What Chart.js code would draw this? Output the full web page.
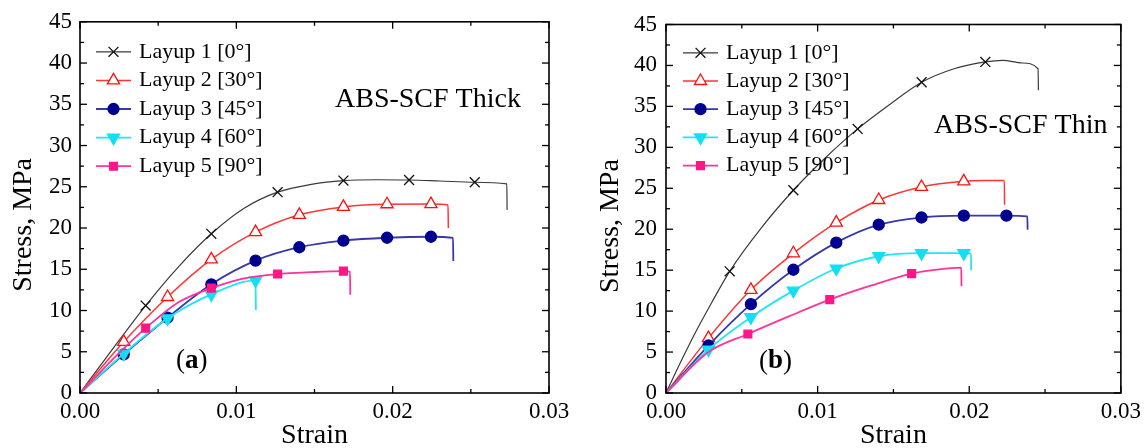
<!DOCTYPE html>
<html><head><meta charset="utf-8">
<script src="https://cdn.jsdelivr.net/npm/chart.js@4.4.1/dist/chart.umd.min.js"></script>
<style>
html,body{margin:0;padding:0;background:#fff;}
#wrap{position:relative;width:1146px;height:448px;overflow:hidden;}
.c{position:absolute;top:0;}
</style></head><body>
<div id="wrap">
<canvas id="thick" class="c" style="left:0" width="580" height="448"></canvas>
<canvas id="thin" class="c" style="left:580px" width="566" height="448"></canvas>
</div>
<script>
// ---------- data ----------
const strainTicks = [0, 0.01, 0.02, 0.03];
const strainTickLabels = ['0.00', '0.01', '0.02', '0.03'];
const strainMinorTicks = [0.005, 0.015, 0.025];
const stressTicks = [0, 5, 10, 15, 20, 25, 30, 35, 40, 45];
const stressMinorTicks = [2.5, 7.5, 12.5, 17.5, 22.5, 27.5, 32.5, 37.5, 42.5];
const layupNames = ['Layup 1 [0°]', 'Layup 2 [30°]', 'Layup 3 [45°]', 'Layup 4 [60°]', 'Layup 5 [90°]'];
const panelTitles = ['ABS-SCF Thick', 'ABS-SCF Thin'];
const panelLetters = ['a', 'b'];
const xAxisTitle = 'Strain';
const yAxisTitle = 'Stress, MPa';

// Thick panel (a): [strain, stress MPa]
const thick1Curve = [[0,0],[0.002,5.1],[0.0042,10.6],[0.0063,15.3],[0.0084,19.3],[0.0105,22.4],[0.01264,24.35],[0.0148,25.3],[0.01685,25.75],[0.019,25.85],[0.02105,25.82],[0.023,25.7],[0.02525,25.55],[0.0273,25.35],[0.02732,22.2]];
const thick1Marks = [[0.0042,10.6],[0.0084,19.3],[0.01264,24.35],[0.01685,25.75],[0.02105,25.82],[0.02525,25.55]];
const thick2Curve = [[0,0],[0.0028,6.2],[0.0056,11.64],[0.0084,16.2],[0.01123,19.5],[0.01403,21.6],[0.01685,22.56],[0.01964,22.88],[0.02245,22.9],[0.02354,22.78],[0.02356,20.0]];
const thick2Marks = [[0.0028,6.2],[0.0056,11.64],[0.0084,16.2],[0.01123,19.5],[0.01403,21.6],[0.01685,22.56],[0.01964,22.88],[0.02245,22.9]];
const thick3Curve = [[0,0],[0.0028,4.69],[0.0056,9.13],[0.0084,13.18],[0.01123,16.04],[0.01403,17.67],[0.01685,18.47],[0.01964,18.82],[0.02245,18.94],[0.02386,18.8],[0.02388,16.0]];
const thick3Marks = [[0.0028,4.69],[0.0056,9.13],[0.0084,13.18],[0.01123,16.04],[0.01403,17.67],[0.01685,18.47],[0.01964,18.82],[0.02245,18.94]];
const thick4Curve = [[0,0],[0.0028,4.77],[0.0056,9.05],[0.0084,11.95],[0.01123,13.65],[0.01125,10.05]];
const thick4Marks = [[0.0028,4.77],[0.0056,9.05],[0.0084,11.95],[0.01123,13.65]];
const thick5Curve = [[0,0],[0.0028,5.4],[0.0042,7.86],[0.0063,11.0],[0.0084,12.71],[0.0105,13.9],[0.01264,14.42],[0.0148,14.65],[0.01685,14.77],[0.01727,14.72],[0.01729,11.9]];
const thick5Marks = [[0.0042,7.86],[0.0084,12.71],[0.01264,14.42],[0.01685,14.77]];

// Thin panel (b)
const thin1Curve = [[0,0],[0.001,3.9],[0.002,7.6],[0.003,11.0],[0.0042,14.86],[0.0063,20.2],[0.0084,24.76],[0.0105,28.7],[0.01264,32.25],[0.0148,35.3],[0.01686,37.95],[0.019,39.6],[0.02106,40.43],[0.0222,40.62],[0.0235,40.3],[0.02454,39.6],[0.02456,36.97]];
const thin1Marks = [[0.0042,14.86],[0.0084,24.76],[0.01264,32.25],[0.01686,37.95],[0.02106,40.43]];
const thin2Curve = [[0,0],[0.0028,6.7],[0.0056,12.6],[0.0084,17.06],[0.01123,20.8],[0.01403,23.57],[0.01685,25.16],[0.01964,25.85],[0.021,25.95],[0.02231,25.95],[0.02233,23.0]];
const thin2Marks = [[0.0028,6.7],[0.0056,12.6],[0.0084,17.06],[0.01123,20.8],[0.01403,23.57],[0.01685,25.16],[0.01964,25.85]];
const thin3Curve = [[0,0],[0.0028,5.8],[0.0056,10.85],[0.0084,15.05],[0.01123,18.36],[0.01403,20.55],[0.01685,21.43],[0.01964,21.65],[0.02245,21.65],[0.02383,21.58],[0.02385,19.95]];
const thin3Marks = [[0.0028,5.8],[0.0056,10.85],[0.0084,15.05],[0.01123,18.36],[0.01403,20.55],[0.01685,21.43],[0.01964,21.65],[0.02245,21.65]];
const thin4Curve = [[0,0],[0.0028,5.3],[0.0056,9.25],[0.0084,12.5],[0.01123,15.2],[0.01403,16.7],[0.01685,17.08],[0.01964,17.08],[0.02011,17.05],[0.02013,14.98]];
const thin4Marks = [[0.0028,5.3],[0.0056,9.25],[0.0084,12.5],[0.01123,15.2],[0.01403,16.7],[0.01685,17.08],[0.01964,17.08]];
const thin5Curve = [[0,0],[0.0028,5.0],[0.0054,7.2],[0.0081,9.35],[0.0108,11.4],[0.0135,13.1],[0.0162,14.58],[0.018,15.1],[0.01947,15.3],[0.01949,13.03]];
const thin5Marks = [[0.0054,7.2],[0.0108,11.4],[0.0162,14.58]];

// ---------- styles ----------
const FONT = '"Liberation Serif", "Times New Roman", serif';
const seriesStyles = [
  {line:'#3a3a3a', width:1.2, mark:'crossRot', edge:'#111111', fill:'#111111', r:7, rot:0},
  {line:'#ff3535', width:1.5, mark:'triangle', edge:'#ff1010', fill:'#ffffff', r:7, rot:0},
  {line:'#3838aa', width:1.8, mark:'circle', edge:'#00008f', fill:'#00008f', r:5.5, rot:0},
  {line:'#22e6f4', width:1.8, mark:'triangle', edge:'#12e0f2', fill:'#12e0f2', r:7, rot:180},
  {line:'#ff3399', width:1.8, mark:'rect', edge:'#ff1685', fill:'#ff1685', r:5.5, rot:0}
];

function toXY(arr){ return arr.map(p => ({x:p[0], y:p[1]})); }

function buildDatasets(curves, marks){
  const ds = [];
  curves.forEach((c, i) => {
    const st = seriesStyles[i];
    ds.push({
      label: layupNames[i], data: toXY(c),
      borderColor: st.line, borderWidth: st.width, pointRadius: 0, pointHoverRadius: 0,
      cubicInterpolationMode: 'monotone', fill: false, order: (5 - i) * 2
    });
    ds.push({
      label: layupNames[i] + ' marks', data: toXY(marks[i]), showLine: false,
      pointStyle: st.mark, pointRotation: st.rot, pointRadius: st.r, pointHoverRadius: st.r,
      pointBackgroundColor: st.fill, pointBorderColor: st.edge, pointBorderWidth: 1.3,
      order: (5 - i) * 2 - 1
    });
  });
  return ds;
}

function drawMarker(ctx, st, x, y){
  const r = st.r;
  ctx.save();
  ctx.fillStyle = st.fill; ctx.strokeStyle = st.edge; ctx.lineWidth = 1.3;
  ctx.beginPath();
  if (st.mark === 'circle') {
    ctx.arc(x, y, r, 0, Math.PI * 2); ctx.closePath(); ctx.fill(); ctx.stroke();
  } else if (st.mark === 'rect') {
    const s = r * Math.SQRT1_2; ctx.rect(x - s, y - s, 2 * s, 2 * s); ctx.fill(); ctx.stroke();
  } else if (st.mark === 'triangle') {
    let rad = st.rot * Math.PI / 180;
    ctx.moveTo(x + Math.sin(rad) * r, y - Math.cos(rad) * r);
    rad += 2 * Math.PI / 3; ctx.lineTo(x + Math.sin(rad) * r, y - Math.cos(rad) * r);
    rad += 2 * Math.PI / 3; ctx.lineTo(x + Math.sin(rad) * r, y - Math.cos(rad) * r);
    ctx.closePath(); ctx.fill(); ctx.stroke();
  } else if (st.mark === 'crossRot') {
    const s = r * Math.SQRT1_2;
    ctx.moveTo(x - s, y - s); ctx.lineTo(x + s, y + s);
    ctx.moveTo(x - s, y + s); ctx.lineTo(x + s, y - s);
    ctx.stroke();
  }
  ctx.restore();
}

const decorPlugin = {
  id: 'decor',
  afterDatasetsDraw(chart, args, o) {
    const {ctx, chartArea: a} = chart;
    const xs = chart.scales.x, ys = chart.scales.y;
    ctx.save();
    // frame
    ctx.strokeStyle = '#000'; ctx.lineWidth = 1.6;
    ctx.strokeRect(a.left, a.top, a.right - a.left, a.bottom - a.top);
    // inward ticks on all four sides
    ctx.lineWidth = 1.3;
    const seg = (x1, y1, x2, y2) => { ctx.beginPath(); ctx.moveTo(x1, y1); ctx.lineTo(x2, y2); ctx.stroke(); };
    const xt = (v, len) => { const p = xs.getPixelForValue(v); seg(p, a.bottom, p, a.bottom - len); seg(p, a.top, p, a.top + len); };
    const yt = (v, len) => { const p = ys.getPixelForValue(v); seg(a.left, p, a.left + len, p); seg(a.right, p, a.right - len, p); };
    strainTicks.forEach(v => xt(v, 7)); strainMinorTicks.forEach(v => xt(v, 4));
    stressTicks.forEach(v => yt(v, 7)); stressMinorTicks.forEach(v => yt(v, 4));
    // y title
    ctx.fillStyle = '#000';
    ctx.save();
    ctx.translate(a.left - o.yTitleDX, a.top + (a.bottom - a.top) * 0.547);
    ctx.rotate(-Math.PI / 2);
    ctx.font = '28px ' + FONT; ctx.textAlign = 'center'; ctx.textBaseline = 'middle';
    ctx.fillText(yAxisTitle, 0, 0);
    ctx.restore();
    // panel title
    ctx.font = '28px ' + FONT; ctx.textAlign = 'left'; ctx.textBaseline = 'middle';
    ctx.fillText(o.title, a.left + o.titleDX, a.top + o.titleDY);
    // panel letter (x)
    let lx = a.left + o.letterDX; const ly = a.bottom - o.letterDY;
    ctx.font = '27px ' + FONT; ctx.fillText('(', lx, ly); lx += ctx.measureText('(').width;
    ctx.font = 'bold 27px ' + FONT; ctx.fillText(o.letter, lx, ly); lx += ctx.measureText(o.letter).width;
    ctx.font = '27px ' + FONT; ctx.fillText(')', lx, ly);
    // legend
    ctx.font = '22px ' + FONT;
    layupNames.forEach((name, i) => {
      const st = seriesStyles[i];
      const y = a.top + o.legTop + i * o.legStep;
      const x0 = a.left + o.legX;
      ctx.strokeStyle = st.line; ctx.lineWidth = st.width;
      seg(x0, y, x0 + 35, y);
      drawMarker(ctx, st, x0 + 17.5, y);
      ctx.fillStyle = '#000';
      ctx.fillText(name, x0 + 43, y);
    });
    ctx.restore();
  }
};

function makeChart(id, curves, marks, geo, deco){
  return new Chart(document.getElementById(id), {
    type: 'line',
    data: { datasets: buildDatasets(curves, marks) },
    plugins: [decorPlugin],
    options: {
      responsive: false, animation: false, events: [],
      layout: { padding: { left: 0, right: geo.right, top: geo.top, bottom: 0 } },
      plugins: { legend: { display: false }, tooltip: { enabled: false }, decor: deco },
      scales: {
        x: {
          type: 'linear', min: 0, max: 0.03,
          afterBuildTicks: s => { s.ticks = strainTicks.map(v => ({value: v})); },
          afterFit: s => { s.height = 55; },
          ticks: { color: '#000', font: { family: FONT, size: 23 }, padding: 5,
                   callback: (v, i) => strainTickLabels[i], maxRotation: 0, autoSkip: false },
          grid: { display: false, drawTicks: false }, border: { display: false },
          title: { display: true, text: xAxisTitle, color: '#000', font: { family: FONT, size: 28, lineHeight: 1 }, padding: { top: 0, bottom: -2 } }
        },
        y: {
          type: 'linear', min: 0, max: 45,
          afterBuildTicks: s => { s.ticks = stressTicks.map(v => ({value: v})); },
          afterFit: s => { s.width = geo.yWidth; },
          ticks: { color: '#000', font: { family: FONT, size: 23 }, padding: geo.yPad, autoSkip: false },
          grid: { display: false, drawTicks: false }, border: { display: false }
        }
      }
    }
  });
}

makeChart('thick',
  [thick1Curve, thick2Curve, thick3Curve, thick4Curve, thick5Curve],
  [thick1Marks, thick2Marks, thick3Marks, thick4Marks, thick5Marks],
  { right: 31, top: 15, yWidth: 80, yPad: 8 },
  { title: panelTitles[0], titleDX: 255, titleDY: 78, letter: panelLetters[0], letterDX: 96, letterDY: 32,
    legX: 16, legTop: 30, legStep: 28.6, yTitleDX: 56 });

makeChart('thin',
  [thin1Curve, thin2Curve, thin3Curve, thin4Curve, thin5Curve],
  [thin1Marks, thin2Marks, thin3Marks, thin4Marks, thin5Marks],
  { right: 24, top: 24.5, yWidth: 86, yPad: 9 },
  { title: panelTitles[1], titleDX: 268, titleDY: 101.5, letter: panelLetters[1], letterDX: 93, letterDY: 31.5,
    legX: 17, legTop: 28.3, legStep: 28.2, yTitleDX: 55 });
</script>
</body></html>
